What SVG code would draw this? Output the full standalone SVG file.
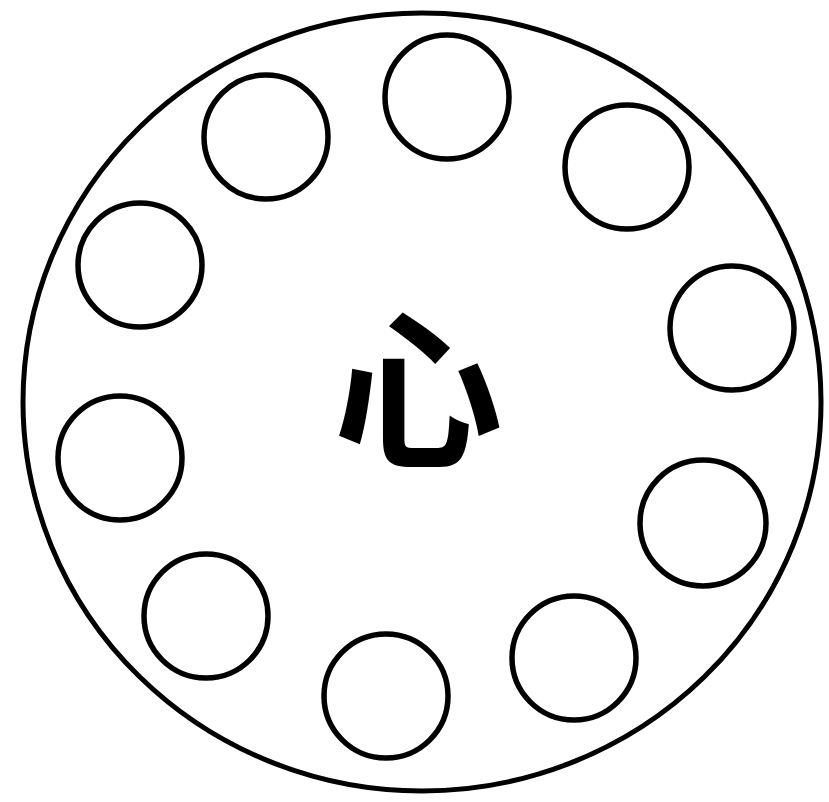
<svg xmlns="http://www.w3.org/2000/svg" width="829" height="802" viewBox="0 0 829 802">
<style>
.big{fill:none;stroke:#000;stroke-width:5}
.s{fill:none;stroke:#000;stroke-width:5.5}
.t{font-family:"Noto Sans CJK SC","Noto Sans CJK JP",sans-serif;font-weight:bold;font-size:170px;fill:#000}
</style>
<rect width="829" height="802" fill="#fff"/>
<g id="outer"><ellipse class="big" cx="422" cy="402" rx="399" ry="389"/></g>
<g id="c1"><circle class="s" cx="447" cy="97" r="62"/></g>
<g id="c2"><circle class="s" cx="266" cy="137" r="62"/></g>
<g id="c3"><circle class="s" cx="627" cy="167" r="62"/></g>
<g id="c4"><circle class="s" cx="140" cy="265" r="62"/></g>
<g id="c5"><circle class="s" cx="732" cy="328" r="62"/></g>
<g id="c6"><circle class="s" cx="120" cy="458" r="62"/></g>
<g id="c7"><circle class="s" cx="703" cy="523" r="63"/></g>
<g id="c8"><circle class="s" cx="206" cy="616" r="62"/></g>
<g id="c9"><circle class="s" cx="574" cy="658" r="62"/></g>
<g id="c10"><circle class="s" cx="386" cy="696" r="62"/></g>
<g id="center"><text class="t" x="418" y="455" text-anchor="middle">心</text></g>
</svg>
